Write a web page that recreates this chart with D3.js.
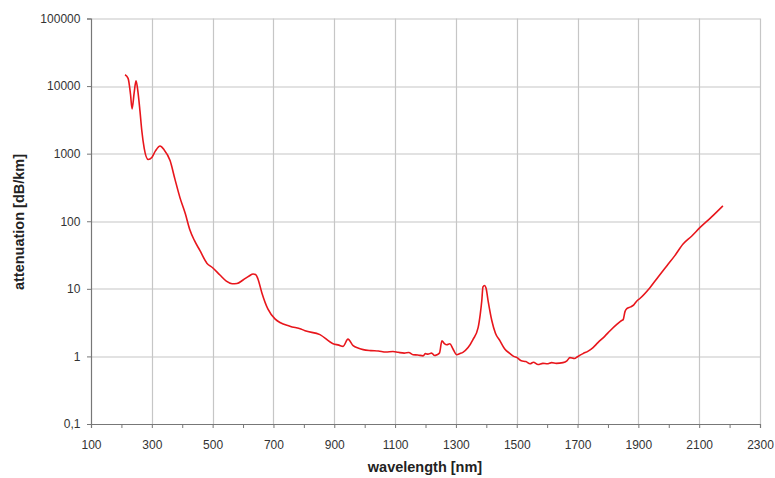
<!DOCTYPE html>
<html>
<head>
<meta charset="utf-8">
<script src="https://cdn.jsdelivr.net/npm/d3@7"></script>
<style>
  body { margin: 0; background: #fff; }
  svg { font-family: "Liberation Sans", Arial, sans-serif; }
</style>
</head>
<body>
<div id="chart"></div>
<script>
var svgWidth = 775;
var svgHeight = 478;

var margin = { top: 18.5, bottom: 54, right: 15, left: 91 };
var width = svgWidth - margin.left - margin.right;
var height = svgHeight - margin.top - margin.bottom;

// wavelength [nm]
var wavelength = [212, 222, 230, 235, 242, 248, 254, 261, 267, 275, 288, 300, 312, 327, 340, 360, 376,
  393, 410, 425, 440, 458, 481, 500, 524, 545, 564, 580, 600, 620, 633, 642, 649, 662, 682, 705, 754, 790, 804, 853,
  896, 915, 929, 945, 962, 980, 995, 1020, 1045, 1070, 1093, 1110, 1130, 1145, 1159, 1175, 1192, 1200, 1208,
  1220, 1230, 1238, 1246, 1254, 1262, 1270, 1280, 1290, 1303, 1313, 1323, 1340, 1356, 1373, 1380, 1385, 1389,
  1394, 1399, 1406, 1418, 1430, 1445, 1460, 1478, 1490, 1501, 1515, 1530, 1544, 1555, 1570, 1586, 1600, 1615,
  1630, 1652, 1665, 1675, 1690, 1700, 1718, 1735, 1751, 1767, 1790, 1807, 1830, 1845, 1850, 1856, 1862,
  1875, 1885, 1895, 1905, 1938, 1965, 1994, 2020, 2047, 2075, 2103, 2140, 2178];

// attenuation [dB/km]
var attenuation = [14700, 13000, 7500, 4600, 8000, 12000, 8500, 4300, 2200, 1200, 820, 880, 1100, 1300, 1150, 790, 420,
  220, 130, 75, 52, 37, 24, 20.5, 16, 13, 11.9, 12, 13.5, 15.5, 16.6, 16.2, 14, 8.7, 5, 3.6, 2.8, 2.55, 2.4, 2.1,
  1.54, 1.47, 1.41, 1.8, 1.44, 1.32, 1.26, 1.22, 1.2, 1.16, 1.18, 1.15, 1.12, 1.14, 1.06, 1.05, 1.02, 1.1, 1.08,
  1.12, 1.03, 1.06, 1.12, 1.7, 1.55, 1.49, 1.54, 1.3, 1.06, 1.1, 1.15, 1.35, 1.77, 2.66, 4.2, 6.6, 10.7,
  11.2, 10.3, 6.6, 3.4, 2.2, 1.7, 1.3, 1.1, 1.0, 0.96, 0.86, 0.84, 0.78, 0.82, 0.76, 0.79, 0.78, 0.81,
  0.79, 0.81, 0.86, 0.96, 0.93, 0.99, 1.1, 1.2, 1.35, 1.6, 2.0, 2.4, 3.0, 3.4, 3.5, 4.6, 5.1,
  5.4, 5.8, 6.6, 7.2, 10.4, 15, 22, 31, 46, 60, 81, 115, 169];

var xTickLabels = [100, 300, 500, 700, 900, 1100, 1300, 1500, 1700, 1900, 2100, 2300];
var yTickLabels = [0.1, 1, 10, 100, 1000, 10000, 100000];

var pdata = wavelength.map(function(w, i) { return { w: w, a: attenuation[i] }; });

var svg = d3.select("#chart").append("svg")
  .attr("width", svgWidth)
  .attr("height", svgHeight);

var chartGroup = svg.append("g")
  .attr("transform", `translate(${margin.left}, ${margin.top})`);

var xScale = d3.scaleLinear().domain([100, 2300]).range([0, width]);
var yScale = d3.scaleLog().domain([0.1, 100000]).range([height, 0]);

// gridlines
chartGroup.append("g")
  .selectAll("line.vgrid")
  .data(xTickLabels.slice(1))
  .enter().append("line")
  .attr("x1", d => Math.round(xScale(d)) + 0.5)
  .attr("x2", d => Math.round(xScale(d)) + 0.5)
  .attr("y1", 0)
  .attr("y2", height)
  .attr("stroke", "#c6c6c6")
  .attr("stroke-width", 1.2);

chartGroup.append("g")
  .selectAll("line.hgrid")
  .data(yTickLabels.slice(1))
  .enter().append("line")
  .attr("x1", 0)
  .attr("x2", width)
  .attr("y1", d => Math.round(yScale(d)) + 0.5)
  .attr("y2", d => Math.round(yScale(d)) + 0.5)
  .attr("stroke", "#c6c6c6")
  .attr("stroke-width", 1.2);

// axes
var xAxis = d3.axisBottom(xScale)
  .tickValues(d3.range(100, 2301, 100))
  .tickSize(4)
  .tickFormat(d => xTickLabels.indexOf(d) >= 0 ? d : "");

var yAxis = d3.axisLeft(yScale)
  .tickValues(yTickLabels)
  .tickSize(4)
  .tickFormat(d => String(d).replace(".", ","));

var gx = chartGroup.append("g")
  .attr("transform", `translate(0, ${height})`)
  .call(xAxis);
var gy = chartGroup.append("g").call(yAxis);

[gx, gy].forEach(function(g) {
  g.select(".domain").attr("stroke", "#777").attr("stroke-width", 1.2);
  g.selectAll(".tick line").attr("stroke", "#777");
  g.selectAll("text")
    .attr("fill", "#333")
    .style("font-size", "12px")
    .style("font-family", "Liberation Sans, Arial, sans-serif");
});
gx.selectAll("text").attr("dy", "1.5em");
gy.selectAll("text").attr("dx", "-0.3em");

// curve
var line = d3.line()
  .x(d => xScale(d.w))
  .y(d => yScale(d.a))
  .curve(d3.curveMonotoneX);

chartGroup.append("path")
  .datum(pdata)
  .attr("d", line)
  .attr("fill", "none")
  .attr("stroke", "#e8161c")
  .attr("stroke-width", 1.6);

// axis titles
svg.append("text")
  .attr("x", 425)
  .attr("y", 472)
  .attr("text-anchor", "middle")
  .style("font-size", "14.5px")
  .style("font-weight", "bold")
  .attr("fill", "#222")
  .text("wavelength [nm]");

svg.append("text")
  .attr("transform", `translate(24, 222) rotate(-90)`)
  .attr("text-anchor", "middle")
  .style("font-size", "14.5px")
  .style("font-weight", "bold")
  .attr("fill", "#222")
  .text("attenuation [dB/km]");
</script>
</body>
</html>
